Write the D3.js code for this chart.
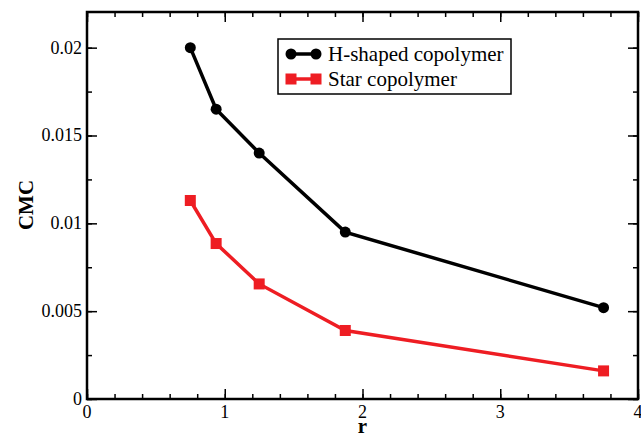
<!DOCTYPE html>
<html>
<head>
<meta charset="utf-8">
<script src="https://cdn.jsdelivr.net/npm/d3@7"></script>
<style>
  body { margin: 0; background: #fff; }
  text { font-family: "Liberation Serif", "Times New Roman", serif; }
</style>
</head>
<body>
<script>
// data
var rValues = [0.75, 0.9375, 1.25, 1.875, 3.75];
var hShaped = [0.0200, 0.0165, 0.0140, 0.0095, 0.0052];
var star = [0.0113, 0.00885, 0.00655, 0.0039, 0.0016];
var seriesNames = ["H-shaped copolymer", "Star copolymer"];
var xTicks = [0, 1, 2, 3, 4];
var yTicks = [0, 0.005, 0.01, 0.015, 0.02];
var yTickLabels = ["0", "0.005", "0.01", "0.015", "0.02"];

var W = 641, H = 434;
var m = {left: 87, top: 12, right: 3, bottom: 35};

var svg = d3.select("body").append("svg")
    .attr("width", W)
    .attr("height", H);

var x = d3.scaleLinear().domain([0, 4]).range([m.left, W - m.right]);
var y = d3.scaleLinear().domain([0, 0.02203]).range([H - m.bottom, m.top]);

// minor ticks
var xMinor = d3.range(0, 4.001, 0.2);
var yMinor = d3.range(0, 0.0221, 0.0025);

function tickAxis(axis, scale, vals, size) {
  var g = svg.append("g");
  g.call(axis(scale).tickValues(vals).tickSize(size).tickFormat(""));
  g.select(".domain").remove();
  g.selectAll("line").attr("stroke", "#000").attr("stroke-width", 1.5);
  return g;
}

// bottom, top, left, right: inward ticks
tickAxis(d3.axisTop, x, xMinor, 5).attr("transform", "translate(0," + y(0) + ")");
tickAxis(d3.axisTop, x, xTicks, 10).attr("transform", "translate(0," + y(0) + ")");
tickAxis(d3.axisBottom, x, xMinor, 5).attr("transform", "translate(0," + m.top + ")");
tickAxis(d3.axisBottom, x, xTicks, 10).attr("transform", "translate(0," + m.top + ")");
tickAxis(d3.axisRight, y, yMinor, 5).attr("transform", "translate(" + x(0) + ",0)");
tickAxis(d3.axisRight, y, yTicks, 10).attr("transform", "translate(" + x(0) + ",0)");
tickAxis(d3.axisLeft, y, yMinor, 5).attr("transform", "translate(" + x(4) + ",0)");
tickAxis(d3.axisLeft, y, yTicks, 10).attr("transform", "translate(" + x(4) + ",0)");

// frame
svg.append("rect")
    .attr("x", x(0)).attr("y", m.top)
    .attr("width", x(4) - x(0)).attr("height", y(0) - m.top)
    .attr("fill", "none").attr("stroke", "#000").attr("stroke-width", 2.5);

// tick labels
svg.selectAll(".xl").data(xTicks).enter().append("text")
    .attr("x", function(d) { return x(d); })
    .attr("y", y(0) + 19)
    .attr("text-anchor", "middle")
    .attr("font-size", 18)
    .text(function(d) { return d; });

svg.selectAll(".yl").data(yTicks).enter().append("text")
    .attr("x", x(0) - 5)
    .attr("y", function(d) { return y(d) + 6; })
    .attr("text-anchor", "end")
    .attr("font-size", 18)
    .text(function(d, i) { return yTickLabels[i]; });

// axis titles
svg.append("text")
    .attr("transform", "translate(33,205) rotate(-90)")
    .attr("text-anchor", "middle")
    .attr("font-size", 21)
    .attr("font-weight", "bold")
    .text("CMC");

svg.append("text")
    .attr("x", x(2))
    .attr("y", 433)
    .attr("text-anchor", "middle")
    .attr("font-size", 21)
    .attr("font-weight", "bold")
    .text("r");

var line = d3.line()
    .x(function(d) { return x(d[0]); })
    .y(function(d) { return y(d[1]); });

var hData = d3.zip(rValues, hShaped);
var sData = d3.zip(rValues, star);
var red = "#ee1d23";

svg.append("path").datum(hData).attr("d", line)
    .attr("fill", "none").attr("stroke", "#000").attr("stroke-width", 3.5);
svg.selectAll(".hc").data(hData).enter().append("circle")
    .attr("cx", function(d) { return x(d[0]); })
    .attr("cy", function(d) { return y(d[1]); })
    .attr("r", 5.5).attr("fill", "#000");

svg.append("path").datum(sData).attr("d", line)
    .attr("fill", "none").attr("stroke", red).attr("stroke-width", 3.5);
svg.selectAll(".ss").data(sData).enter().append("rect")
    .attr("x", function(d) { return x(d[0]) - 5.5; })
    .attr("y", function(d) { return y(d[1]) - 5.5; })
    .attr("width", 11).attr("height", 11).attr("fill", red);

// legend
var lg = svg.append("g");
lg.append("rect")
    .attr("x", 278).attr("y", 39).attr("width", 233).attr("height", 55)
    .attr("fill", "#fff").attr("stroke", "#000").attr("stroke-width", 1.5);

lg.append("line").attr("x1", 291).attr("x2", 316).attr("y1", 54).attr("y2", 54)
    .attr("stroke", "#000").attr("stroke-width", 3.5);
[291, 316].forEach(function(cx) {
  lg.append("circle").attr("cx", cx).attr("cy", 54).attr("r", 5.5).attr("fill", "#000");
});
lg.append("line").attr("x1", 291).attr("x2", 316).attr("y1", 79).attr("y2", 79)
    .attr("stroke", red).attr("stroke-width", 3.5);
[291, 316].forEach(function(cx) {
  lg.append("rect").attr("x", cx - 5.5).attr("y", 73.5).attr("width", 11).attr("height", 11).attr("fill", red);
});

lg.selectAll(".lt").data(seriesNames).enter().append("text")
    .attr("x", 328)
    .attr("y", function(d, i) { return 61 + i * 25; })
    .attr("font-size", 21)
    .text(function(d) { return d; });
</script>
</body>
</html>
